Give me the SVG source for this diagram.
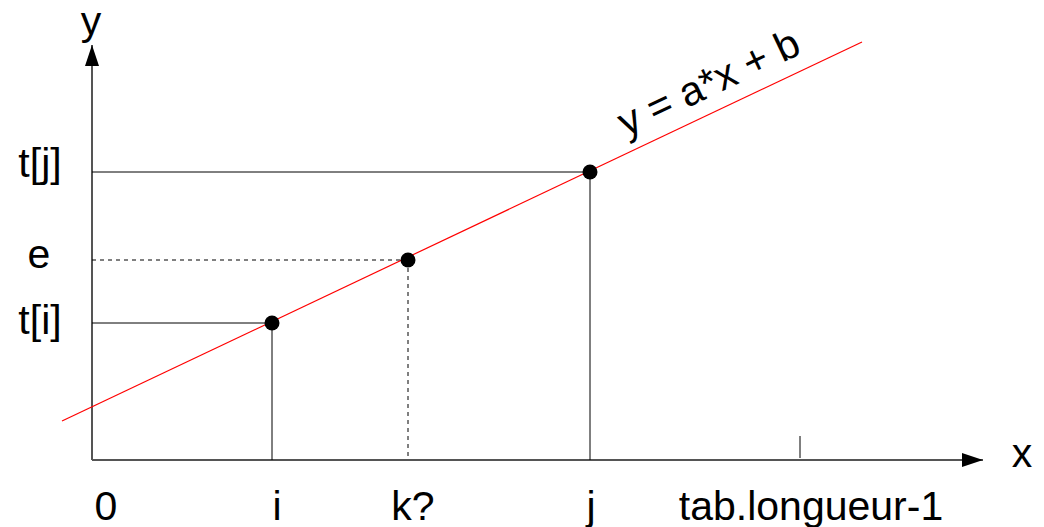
<svg xmlns="http://www.w3.org/2000/svg" width="1044" height="527" viewBox="0 0 1044 527">
<style>
text{font-family:"Liberation Sans",Arial,sans-serif;font-size:41px;fill:#000}
.ax{stroke:#555;stroke-width:2;fill:none}
.thin{stroke:#000;stroke-width:1;fill:none}
.dash{stroke:#000;stroke-width:1;stroke-dasharray:4,4;fill:none}
.dot{fill:#000}
</style>
<defs>
<marker id="arv" markerWidth="21" markerHeight="14" refX="21" refY="7" orient="auto" markerUnits="userSpaceOnUse">
<path d="M0,0 L21,7 L0,14 Z" fill="#000" stroke="none"/>
</marker>
</defs>
<g id="connectors">
<line class="ax" x1="92" y1="460" x2="92" y2="45" marker-end="url(#arv)"/>
<line class="ax" x1="92" y1="460" x2="983" y2="460" marker-end="url(#arv)"/>
<line class="thin" x1="800" y1="436" x2="800" y2="458" stroke-width="1.5"/>
<line class="thin" x1="92" y1="172" x2="590" y2="172"/>
<line class="thin" x1="590" y1="172" x2="590" y2="460"/>
<line class="thin" x1="92" y1="323" x2="272" y2="323"/>
<line class="thin" x1="272" y1="323" x2="272" y2="460"/>
<line class="dash" x1="92" y1="260" x2="408" y2="260"/>
<line class="dash" x1="408" y1="260" x2="408" y2="460"/>
<line x1="62" y1="421" x2="862" y2="42" stroke="#f00" stroke-width="1.2"/>
</g>
<g id="point-i"><circle class="dot" cx="272" cy="323" r="7.5"/></g>
<g id="point-k"><circle class="dot" cx="408" cy="260" r="7.5"/></g>
<g id="point-j"><circle class="dot" cx="590" cy="172" r="7.5"/></g>
<g id="labels">
<text x="91" y="35" text-anchor="middle">y</text>
<text x="1022" y="467" text-anchor="middle">x</text>
<text x="40" y="177" text-anchor="middle">t[j]</text>
<text x="39" y="268" text-anchor="middle">e</text>
<text x="40" y="334" text-anchor="middle">t[i]</text>
<text x="106" y="520" text-anchor="middle">0</text>
<text x="277" y="520" text-anchor="middle">i</text>
<text x="413" y="520" text-anchor="middle">k?</text>
<text x="591" y="520" text-anchor="middle">j</text>
<text x="811" y="520" text-anchor="middle">tab.longueur-1</text>
<text x="0" y="0" font-size="40" transform="translate(626,137) rotate(-25.4)">y = a*x + b</text>
</g>
</svg>
